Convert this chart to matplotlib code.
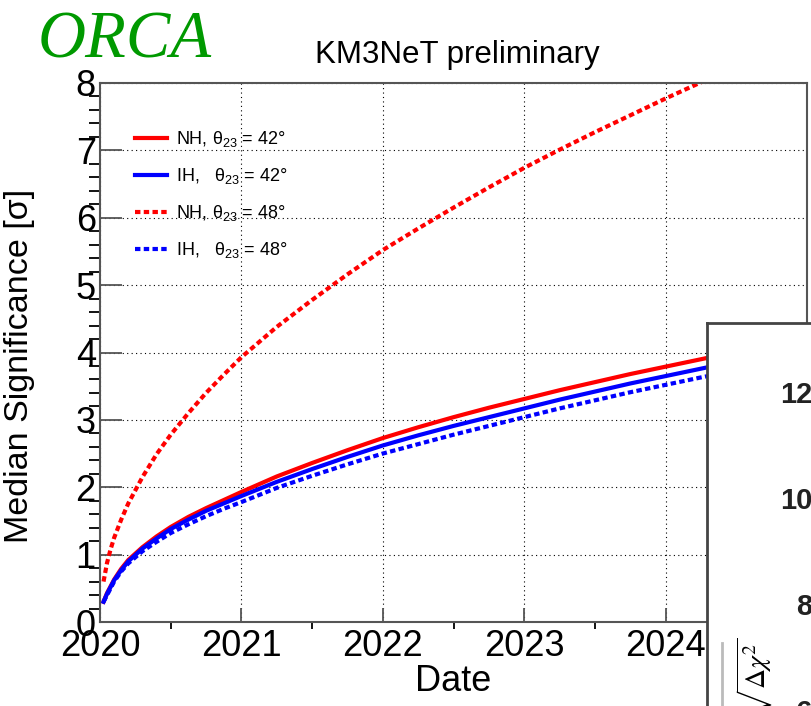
#!/usr/bin/env python
# -*- coding: utf-8 -*-

# ORCA mass ordering sensitivity vs. date, with the corner of the next panel on the right

import matplotlib
matplotlib.use("Agg")
import matplotlib.pyplot as plt
from matplotlib.lines import Line2D

years = [0.025, 0.05, 0.075, 0.1, 0.15, 0.2, 0.3, 0.4, 0.5, 0.625, 0.75, 0.875,
         1.0, 1.25, 1.5, 1.75, 2.0, 2.25, 2.5, 2.75, 3.0, 3.25, 3.5, 3.75,
         4.0, 4.25, 4.5, 5.0]
nh_42 = [0.30, 0.43, 0.53, 0.63, 0.79, 0.92, 1.11, 1.27, 1.41, 1.56, 1.69, 1.81,
         1.93, 2.16, 2.36, 2.55, 2.73, 2.89, 3.04, 3.18, 3.31, 3.44, 3.56, 3.68,
         3.79, 3.90, 4.01, 4.22]
ih_42 = [0.30, 0.42, 0.52, 0.62, 0.77, 0.90, 1.09, 1.24, 1.38, 1.52, 1.65, 1.76,
         1.87, 2.08, 2.27, 2.45, 2.62, 2.77, 2.91, 3.04, 3.17, 3.30, 3.42, 3.54,
         3.65, 3.76, 3.87, 4.07]
nh_48 = [0.60, 0.88, 1.08, 1.25, 1.52, 1.76, 2.15, 2.49, 2.78, 3.10, 3.40, 3.67,
         3.93, 4.38, 4.78, 5.16, 5.52, 5.84, 6.15, 6.45, 6.74, 7.01, 7.27, 7.52,
         7.77, 8.01, 8.25, 8.70]
ih_48 = [0.30, 0.40, 0.50, 0.60, 0.75, 0.87, 1.05, 1.19, 1.32, 1.45, 1.57, 1.68,
         1.78, 1.99, 2.17, 2.34, 2.50, 2.64, 2.78, 2.91, 3.04, 3.17, 3.29, 3.41,
         3.52, 3.63, 3.73, 3.92]

labels = [u"NH, θ$_{23}$ = 42°", u"IH,   θ$_{23}$ = 42°",
          u"NH, θ$_{23}$ = 48°", u"IH,   θ$_{23}$ = 48°"]

x_ticks = [2020, 2021, 2022, 2023, 2024]
y_ticks = [0, 1, 2, 3, 4, 5, 6, 7, 8]
inset_ticks = [6, 8, 10, 12]

W, H = 812.0, 706.0

plt.rcParams["font.family"] = ["Liberation Sans", "DejaVu Sans"]
plt.rcParams["mathtext.fontset"] = "custom"
plt.rcParams["mathtext.rm"] = "Liberation Sans"
plt.rcParams["mathtext.it"] = "Liberation Sans:italic"


def main_panel(fig):
	ax = fig.add_axes([100 / W, 1 - 622 / H, 707 / W, 539 / H])
	dot = (0, (1.3, 0.8))
	x = [2020 + t for t in years]
	ax.plot(x, nh_42, color="#ff0000", lw=3, label=labels[0])
	ax.plot(x, ih_42, color="#0000ff", lw=3, label=labels[1])
	ax.plot(x, nh_48, color="#ff0000", lw=3, ls=dot, label=labels[2])
	ax.plot(x, ih_48, color="#0000ff", lw=3, ls=dot, label=labels[3])

	ax.set_xlim(2020, 2025)
	ax.set_ylim(0, 8)
	ax.set_xticks(x_ticks)
	ax.set_xticklabels([str(v) for v in x_ticks])
	ax.set_xticks([2020.5 + i for i in range(5)], minor=True)
	ax.set_yticks(y_ticks)
	ax.set_yticks([i * 0.2 for i in range(41)], minor=True)

	# ROOT look: inward ticks, dotted grid
	ax.grid(True, which="major", color="black", ls=(0, (1, 3)), lw=0.8)
	ax.tick_params(direction="in", colors="#555555", labelcolor="black", labelsize=26)
	ax.tick_params(axis="y", which="major", length=16, width=1.3, pad=3)
	ax.tick_params(axis="y", which="minor", length=8, width=1.3)
	ax.tick_params(axis="x", which="major", length=10, width=1.3, pad=5)
	ax.tick_params(axis="x", which="minor", length=5, width=1.3)
	for s in ax.spines.values():
		s.set_color("#555555")
		s.set_linewidth(1.5)

	ax.set_xlabel("Date", fontsize=26, labelpad=0)
	ax.set_ylabel(u"Median Significance [σ]", fontsize=24.5)
	ax.yaxis.set_label_coords(-0.092, 0.475)

	ax.legend(loc="upper left", bbox_to_anchor=(135 / W, 1 - 129 / H),
		bbox_transform=fig.transFigure, frameon=False, fontsize=13,
		handlelength=1.75, handletextpad=0.5, labelspacing=0.94,
		borderpad=0, borderaxespad=0)
	return ax


def inset_panel(fig):
	# white pad of the next plot, only its top-left corner is in view
	box = fig.add_axes([707 / W, -0.05, 0.3, (706 - 323) / H + 0.05], zorder=5)
	box.set_xticks([])
	box.set_yticks([])
	box.set_xlim(0, 1)
	box.set_ylim(0, 1)
	for name, s in box.spines.items():
		s.set_color("#444444")
		s.set_linewidth(2)
		s.set_visible(name in ("left", "top"))
	box.add_line(Line2D([0.062, 0.062], [0, 0.235], color="#bbbbbb", lw=2))

	# its y axis sits just past the right edge, only the labels show
	sc = fig.add_axes([814 / W, -0.05, 0.3, 0.55], zorder=6)
	sc.patch.set_visible(False)
	for s in sc.spines.values():
		s.set_visible(False)
	sc.set_xticks([])
	lo = 8 - (706 + 35.3 - 604) / 53.0
	hi = 12 + (392 - 353) / 53.0
	sc.set_ylim(lo, hi)
	sc.set_yticks(inset_ticks)
	sc.tick_params(axis="y", length=0, pad=1, labelsize=21, labelcolor="#222222")
	for t in sc.get_yticklabels():
		t.set_fontweight("bold")

	fig.text(755 / W, 1 - 678 / H, r"$\sqrt{\Delta\chi^2}$", rotation=90,
		ha="center", va="center", fontsize=20, math_fontfamily="stix", zorder=7)


def main():
	fig = plt.figure(figsize=(W / 100, H / 100), dpi=100)
	main_panel(fig)
	inset_panel(fig)

	fig.text(38 / W, 1 - 58 / H, "ORCA", family="Liberation Serif", style="italic",
		color="#009900", fontsize=48, va="baseline")
	fig.text(457 / W, 1 - 63 / H, "KM3NeT preliminary", fontsize=22.5,
		ha="center", va="baseline")

	fig.savefig("out.png", dpi=100)


if __name__ == "__main__":
	main()
